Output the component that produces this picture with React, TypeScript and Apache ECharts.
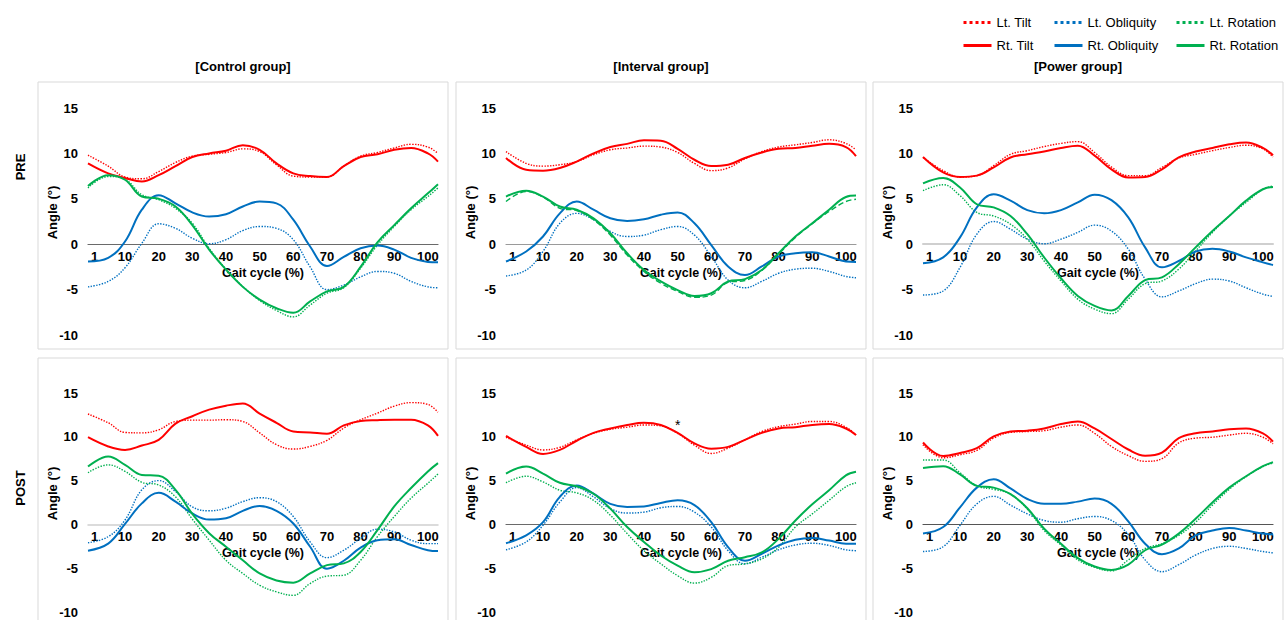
import React, { useEffect, useRef } from "react";
import * as echarts from "echarts";

// Gait cycle sample positions (%)
const X = [-1, 5, 10, 15, 20, 25, 30, 35, 40, 45, 50, 55, 60, 65, 70, 75, 80, 85, 90, 95, 100, 103];
const X_TICKS = [1, 10, 20, 30, 40, 50, 60, 70, 80, 90, 100];
const COL_TITLES = ["[Control group]", "[Interval group]", "[Power group]"];
const ROW_TITLES = ["PRE", "POST"];
const Y_MIN = -10;
const Y_MAX = 15;

// Control PRE
const ctrlPreLtTilt = [9.8, 8.6, 7.4, 7.2, 8.0, 9.0, 9.7, 9.9, 10.1, 10.5, 10.2, 8.75, 7.5, 7.4, 7.4, 8.6, 9.7, 10.1, 10.6, 11.0, 10.7, 10.0];
const ctrlPreRtTilt = [8.9, 7.8, 7.3, 6.9, 7.6, 8.6, 9.6, 10.0, 10.3, 10.9, 10.4, 8.9, 7.8, 7.5, 7.4, 8.6, 9.6, 9.9, 10.4, 10.6, 10.0, 9.1];
const ctrlPreLtObl = [-4.7, -4.1, -2.6, 0.1, 2.25, 1.75, 0.65, 0.05, 0.5, 1.5, 1.95, 1.75, 0.5, -2.5, -5.0, -4.5, -3.6, -3.0, -3.2, -4.1, -4.7, -4.8];
const ctrlPreRtObl = [-1.9, -1.5, 0.3, 3.8, 5.4, 4.5, 3.5, 3.05, 3.3, 4.15, 4.7, 4.5, 2.7, -0.25, -2.4, -1.4, -0.45, -0.15, -0.6, -1.5, -1.95, -2.0];
const ctrlPreLtRot = [6.2, 7.45, 7.15, 5.45, 4.9, 3.95, 2.3, -0.45, -2.75, -4.65, -6.2, -7.3, -8.0, -6.7, -5.4, -4.8, -2.65, -0.1, 1.95, 3.8, 5.25, 6.2];
const ctrlPreRtRot = [6.4, 7.6, 7.1, 5.25, 5.0, 4.15, 2.1, -0.6, -2.8, -4.7, -6.1, -7.05, -7.55, -6.3, -5.2, -4.7, -2.5, 0.2, 2.1, 3.95, 5.6, 6.6];

// Interval PRE
const intPreLtTilt = [10.2, 8.9, 8.6, 8.75, 9.1, 9.85, 10.4, 10.6, 10.8, 10.7, 10.1, 8.9, 8.1, 8.4, 9.4, 10.2, 10.7, 10.95, 11.2, 11.5, 11.1, 10.4];
const intPreRtTilt = [9.5, 8.2, 8.1, 8.4, 9.1, 10.0, 10.7, 11.05, 11.45, 11.4, 10.5, 9.3, 8.6, 8.75, 9.5, 10.1, 10.5, 10.6, 10.85, 11.05, 10.7, 9.7];
const intPreLtObl = [-3.5, -2.85, -0.8, 2.3, 3.4, 2.7, 1.4, 0.85, 1.0, 1.6, 1.95, 1.0, -1.35, -3.95, -4.8, -4.1, -3.2, -2.75, -2.65, -3.0, -3.55, -3.7];
const intPreRtObl = [-1.9, -0.8, 0.85, 3.4, 4.7, 3.8, 2.85, 2.55, 2.75, 3.25, 3.5, 2.3, -0.1, -2.45, -3.4, -2.45, -1.35, -1.0, -0.9, -1.35, -1.9, -1.95];
const intPreLtRot = [4.7, 5.8, 5.2, 3.95, 3.7, 2.7, 1.0, -1.2, -3.0, -4.3, -5.2, -5.85, -5.6, -4.2, -4.0, -2.9, -1.1, 0.75, 2.25, 3.6, 4.7, 4.95];
const intPreRtRot = [5.25, 5.9, 5.25, 4.15, 3.8, 2.85, 1.2, -1.0, -2.85, -4.1, -5.05, -5.7, -5.4, -4.1, -3.85, -2.85, -1.0, 0.85, 2.3, 3.8, 5.2, 5.35];

// Power PRE
const powPreLtTilt = [9.55, 8.1, 7.4, 7.55, 8.65, 9.9, 10.3, 10.75, 11.1, 11.3, 10.1, 8.5, 7.55, 7.55, 8.45, 9.5, 9.9, 10.3, 10.65, 10.9, 10.5, 9.6];
const powPreRtTilt = [9.6, 7.9, 7.4, 7.55, 8.45, 9.55, 9.9, 10.2, 10.6, 10.85, 9.75, 8.25, 7.35, 7.4, 8.25, 9.55, 10.2, 10.6, 11.0, 11.2, 10.6, 9.8];
const powPreLtObl = [-5.6, -5.15, -2.55, 1.1, 2.5, 1.65, 0.55, 0.05, 0.55, 1.3, 2.1, 1.45, -0.55, -3.85, -5.8, -5.15, -4.35, -3.85, -4.05, -4.8, -5.5, -5.75];
const powPreRtObl = [-2.1, -1.45, 0.75, 4.05, 5.5, 4.8, 3.75, 3.4, 3.75, 4.6, 5.45, 4.85, 2.95, -0.35, -2.55, -1.85, -0.8, -0.5, -0.8, -1.45, -2.0, -2.3];
const powPreLtRot = [5.9, 6.55, 5.35, 3.5, 3.1, 2.2, 0.55, -1.85, -4.05, -6.05, -7.15, -7.65, -6.05, -4.35, -4.05, -2.75, -0.75, 1.3, 3.1, 4.6, 6.05, 6.4];
const powPreRtRot = [6.7, 7.3, 6.25, 4.4, 4.05, 3.1, 1.1, -1.45, -3.75, -5.7, -6.8, -7.3, -5.7, -3.95, -3.65, -2.2, -0.35, 1.45, 3.1, 4.8, 6.05, 6.3];

// Control POST
const ctrlPostLtTilt = [12.6, 11.6, 10.5, 10.45, 10.8, 11.75, 11.9, 11.9, 11.95, 11.75, 10.45, 9.1, 8.6, 8.9, 9.6, 11.0, 11.95, 12.7, 13.5, 13.9, 13.7, 12.8];
const ctrlPostRtTilt = [9.95, 8.9, 8.5, 9.0, 9.65, 11.5, 12.35, 13.1, 13.55, 13.8, 12.65, 11.6, 10.6, 10.5, 10.35, 11.3, 11.8, 11.9, 11.95, 11.95, 11.3, 10.1];
const ctrlPostLtObl = [-2.1, -1.4, 0.5, 3.95, 5.0, 3.75, 2.0, 1.55, 1.85, 2.6, 3.05, 2.6, 0.9, -2.0, -3.8, -2.95, -1.6, -0.55, -0.85, -1.8, -2.2, -2.2];
const ctrlPostRtObl = [-3.0, -2.2, 0.05, 2.4, 3.6, 2.6, 1.25, 0.55, 0.7, 1.55, 2.1, 1.55, 0.1, -2.55, -5.05, -4.15, -2.65, -1.8, -1.7, -2.35, -2.95, -3.05];
const ctrlPostLtRot = [5.9, 6.8, 6.05, 4.8, 4.5, 3.15, 0.6, -1.8, -4.1, -5.6, -6.95, -7.7, -8.1, -6.75, -5.9, -5.8, -4.1, -1.4, 0.9, 3.0, 4.7, 5.75];
const ctrlPostRtRot = [6.6, 7.75, 6.8, 5.65, 5.55, 3.95, 1.2, -1.0, -2.55, -4.1, -5.6, -6.4, -6.65, -5.6, -4.65, -4.45, -3.15, -0.65, 2.05, 4.15, 6.05, 7.0];

// Interval POST
const intPostLtTilt = [9.95, 9.05, 8.5, 8.8, 9.65, 10.4, 10.85, 11.1, 11.35, 11.25, 10.4, 9.05, 8.1, 8.7, 9.65, 10.6, 11.15, 11.45, 11.75, 11.75, 11.1, 10.2];
const intPostRtTilt = [10.1, 8.85, 8.05, 8.5, 9.55, 10.45, 10.95, 11.35, 11.6, 11.35, 10.45, 9.25, 8.65, 8.85, 9.65, 10.45, 10.95, 11.1, 11.35, 11.45, 10.95, 10.2];
const intPostLtObl = [-2.9, -2.0, -0.1, 2.55, 4.2, 3.15, 1.8, 1.3, 1.4, 1.9, 2.05, 1.4, -0.3, -3.0, -4.5, -3.75, -2.9, -2.35, -2.15, -2.4, -2.9, -3.0];
const intPostRtObl = [-2.15, -1.25, 0.25, 3.15, 4.45, 3.5, 2.35, 2.0, 2.05, 2.45, 2.75, 2.2, 0.25, -2.6, -4.15, -3.35, -2.4, -1.75, -1.55, -1.85, -2.2, -2.2];
const intPostLtRot = [4.75, 5.5, 4.85, 3.9, 3.6, 2.75, 1.05, -1.05, -3.0, -4.5, -5.85, -6.7, -6.05, -4.7, -4.5, -3.95, -2.6, -0.3, 1.2, 2.75, 4.3, 4.75];
const intPostRtRot = [5.8, 6.6, 5.8, 4.75, 4.35, 3.5, 1.8, -0.3, -2.0, -3.55, -4.7, -5.45, -5.1, -4.15, -3.75, -3.2, -1.65, 0.45, 2.3, 3.9, 5.6, 6.0];

// Power POST
const powPostLtTilt = [9.1, 7.6, 7.95, 8.45, 9.85, 10.5, 10.6, 10.7, 11.1, 11.35, 10.4, 8.9, 7.85, 7.2, 7.5, 9.3, 9.85, 9.95, 10.2, 10.4, 9.95, 9.2];
const powPostRtTilt = [9.35, 7.8, 8.15, 8.7, 10.05, 10.6, 10.7, 10.95, 11.45, 11.75, 10.95, 9.75, 8.55, 7.85, 8.2, 9.85, 10.4, 10.6, 10.85, 10.95, 10.4, 9.45];
const powPostLtObl = [-3.1, -2.55, -0.1, 2.35, 3.2, 2.2, 1.2, 0.45, 0.25, 0.65, 0.9, 0.45, -1.15, -4.05, -5.4, -4.6, -3.5, -2.75, -2.5, -2.75, -3.1, -3.25];
const powPostRtObl = [-1.05, -0.3, 1.95, 4.2, 5.15, 4.1, 2.9, 2.35, 2.35, 2.6, 2.95, 2.35, 0.35, -2.2, -3.4, -2.75, -1.25, -0.7, -0.4, -0.7, -1.05, -1.15];
const powPostLtRot = [7.35, 7.35, 5.9, 4.4, 4.0, 3.45, 1.75, -0.7, -2.35, -4.05, -4.9, -5.3, -4.05, -2.75, -2.2, -1.25, 0.25, 2.2, 4.0, 5.45, 6.6, 7.0];
const powPostRtRot = [6.45, 6.65, 5.7, 4.4, 4.2, 3.45, 1.85, -0.5, -2.2, -3.85, -4.8, -5.2, -4.6, -2.95, -2.3, -1.05, 0.65, 2.5, 4.2, 5.5, 6.65, 7.1];

const RED = "#FF0000";
const BLUE = "#0070C0";
const GREEN = "#00B050";
const FONT = "Arial, 'Liberation Sans', Helvetica, sans-serif";

const PANELS = [
  { row: 0, col: 0, axisColor: "#6a6a6a", axisWidth: 1.2, ltRotType: "dotted", lt: [ctrlPreLtTilt, ctrlPreLtObl, ctrlPreLtRot], rt: [ctrlPreRtTilt, ctrlPreRtObl, ctrlPreRtRot] },
  { row: 0, col: 1, axisColor: "#9a9a9a", axisWidth: 1.2, ltRotType: "dashed", lt: [intPreLtTilt, intPreLtObl, intPreLtRot], rt: [intPreRtTilt, intPreRtObl, intPreRtRot] },
  { row: 0, col: 2, axisColor: "#cfcfcf", axisWidth: 2, ltRotType: "dotted", lt: [powPreLtTilt, powPreLtObl, powPreLtRot], rt: [powPreRtTilt, powPreRtObl, powPreRtRot] },
  { row: 1, col: 0, axisColor: "#cfcfcf", axisWidth: 1.5, ltRotType: "dotted", lt: [ctrlPostLtTilt, ctrlPostLtObl, ctrlPostLtRot], rt: [ctrlPostRtTilt, ctrlPostRtObl, ctrlPostRtRot] },
  { row: 1, col: 1, axisColor: "#6a6a6a", axisWidth: 1.2, ltRotType: "dotted", lt: [intPostLtTilt, intPostLtObl, intPostLtRot], rt: [intPostRtTilt, intPostRtObl, intPostRtRot], star: true },
  { row: 1, col: 2, axisColor: "#555555", axisWidth: 1.2, ltRotType: "dotted", lt: [powPostLtTilt, powPostLtObl, powPostLtRot], rt: [powPostRtTilt, powPostRtObl, powPostRtRot] },
];

const COL_LEFT = [88, 506, 923];
const ROW_TOP = [108, 393];
const ROW_H = [227, 219];
const GRID_W = 350;
const BOX_X = [38, 456, 873];
const BOX_W = 410;
const BOX_Y = [82, 358];
const BOX_H = [267, 280];

const LT_NAMES = ["Lt. Tilt", "Lt. Obliquity", "Lt. Rotation"];
const RT_NAMES = ["Rt. Tilt", "Rt. Obliquity", "Rt. Rotation"];
const COLORS = [RED, BLUE, GREEN];

function buildOption() {
  const grid: any[] = [];
  const xAxis: any[] = [];
  const yAxis: any[] = [];
  const series: any[] = [];
  const graphic: any[] = [];

  PANELS.forEach((p, i) => {
    const h = ROW_H[p.row];
    graphic.push({
      type: "rect",
      z: -10,
      shape: { x: BOX_X[p.col], y: BOX_Y[p.row], width: BOX_W, height: BOX_H[p.row] },
      style: { fill: "#ffffff", stroke: "#d9d9d9", lineWidth: 1 },
    });
    graphic.push({
      type: "text",
      x: COL_LEFT[p.col] - 36,
      y: ROW_TOP[p.row] + h / 2 - 9,
      rotation: Math.PI / 2,
      style: {
        text: "Angle (°)",
        font: `bold 13px ${FONT}`,
        fill: "#000",
        textAlign: "center",
        textVerticalAlign: "middle",
      },
    });
    grid.push({ left: COL_LEFT[p.col], top: ROW_TOP[p.row], width: GRID_W, height: h });
    xAxis.push({
      type: "value",
      gridIndex: i,
      min: -1,
      max: 103,
      position: "bottom",
      // place the axis (line, labels, name) at y = 0
      offset: -(h * (0 - Y_MIN)) / (Y_MAX - Y_MIN),
      axisLine: { show: true, onZero: false, lineStyle: { color: p.axisColor, width: p.axisWidth } },
      axisTick: { show: false },
      splitLine: { show: false },
      axisLabel: {
        customValues: X_TICKS,
        margin: 6,
        color: "#000",
        fontWeight: "bold",
        fontSize: 13,
        fontFamily: FONT,
      },
      name: "Gait cycle (%)",
      nameLocation: "middle",
      nameGap: 22,
      nameTextStyle: { color: "#000", fontWeight: "bold", fontSize: 12.5, fontFamily: FONT },
    });
    yAxis.push({
      type: "value",
      gridIndex: i,
      min: Y_MIN,
      max: Y_MAX,
      interval: 5,
      axisLine: { show: false },
      axisTick: { show: false },
      splitLine: { show: false },
      axisLabel: { margin: 10, color: "#000", fontWeight: "bold", fontSize: 13, fontFamily: FONT },
    });
    for (let k = 0; k < 3; k++) {
      series.push({
        type: "line",
        name: LT_NAMES[k],
        xAxisIndex: i,
        yAxisIndex: i,
        symbol: "none",
        smooth: 0.4,
        color: COLORS[k],
        lineStyle: { color: COLORS[k], width: 1.4, type: k === 2 ? p.ltRotType : "dotted" },
        data: X.map((x, j) => [x, p.lt[k][j]]),
      });
    }
    for (let k = 0; k < 3; k++) {
      const s: any = {
        type: "line",
        name: RT_NAMES[k],
        xAxisIndex: i,
        yAxisIndex: i,
        symbol: "none",
        smooth: 0.4,
        color: COLORS[k],
        lineStyle: { color: COLORS[k], width: 2 },
        data: X.map((x, j) => [x, p.rt[k][j]]),
      };
      if (k === 0 && p.star) {
        s.markPoint = {
          symbol: "circle",
          symbolSize: 1,
          itemStyle: { color: "rgba(0,0,0,0)" },
          data: [{ coord: [50, 11.4] }],
          label: { show: true, position: "inside", formatter: "*", color: "#000", fontSize: 14, fontFamily: FONT },
        };
      }
      series.push(s);
    }
  });

  COL_TITLES.forEach((t, c) => {
    graphic.push({
      type: "text",
      x: BOX_X[c] + BOX_W / 2,
      y: 66,
      style: { text: t, font: `bold 13px ${FONT}`, fill: "#000", textAlign: "center", textVerticalAlign: "middle" },
    });
  });
  ROW_TITLES.forEach((t, r) => {
    graphic.push({
      type: "text",
      x: 20,
      y: [167, 488][r],
      rotation: Math.PI / 2,
      style: { text: t, font: `bold 13px ${FONT}`, fill: "#000", textAlign: "center", textVerticalAlign: "middle" },
    });
  });

  const legendBase = {
    orient: "vertical",
    top: 11,
    itemGap: 10,
    itemWidth: 28,
    itemHeight: 14,
    itemStyle: { opacity: 0, borderWidth: 0 },
    lineStyle: { width: 3 },
    textStyle: { fontSize: 13, color: "#000", fontFamily: FONT },
  };
  const legend = [
    { ...legendBase, left: 957, data: [LT_NAMES[0], RT_NAMES[0]] },
    { ...legendBase, left: 1048, data: [LT_NAMES[1], RT_NAMES[1]] },
    { ...legendBase, left: 1170, data: [LT_NAMES[2], RT_NAMES[2]] },
  ];

  return {
    animation: false,
    backgroundColor: "#ffffff",
    legend,
    grid,
    xAxis,
    yAxis,
    series,
    graphic,
  };
}

export default function App() {
  const ref = useRef<HTMLDivElement>(null);
  useEffect(() => {
    if (!ref.current) return;
    const chart = echarts.init(ref.current, undefined, { renderer: "svg" });
    chart.setOption(buildOption() as any);
    return () => chart.dispose();
  }, []);
  return (
    <div
      ref={ref}
      style={{ position: "fixed", left: 0, top: 0, width: 1285, height: 620, background: "#fff" }}
    />
  );
}
